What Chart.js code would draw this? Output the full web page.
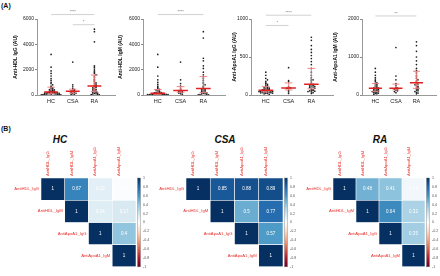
<!DOCTYPE html>
<html lang="en">
<head>
<meta charset="UTF-8">
<script src="https://cdn.jsdelivr.net/npm/chart.js"></script>
<title>Anti-HDL / Anti-ApoA1</title>
<style>
    body {
        margin: 0;
        width: 440px;
        height: 276px;
        position: relative;
        overflow: hidden;
        background: #fff;
        font-family: "Liberation Sans", Arial, sans-serif;
    }
    canvas { position: absolute; }
    .lbl {
        position: absolute;
        font-weight: bold;
        color: #111;
        white-space: nowrap;
        line-height: 1;
    }
    .panel { font-size: 7px; }
    .hm-title { font-size: 10px; font-style: italic; transform: translateX(-50%); }
</style>
</head>
<body>
<div class="lbl panel" style="left:1px;top:2px">(A)</div>
<div class="lbl panel" style="left:1px;top:125px">(B)</div>
<div class="lbl hm-title" style="left:60px;top:135px">HC</div>
<div class="lbl hm-title" style="left:225px;top:135px">CSA</div>
<div class="lbl hm-title" style="left:380px;top:135px">RA</div>

<canvas id="s1" width="111" height="103" style="left:8px;top:4px"></canvas>
<canvas id="s2" width="115" height="103" style="left:114px;top:4px"></canvas>
<canvas id="s3" width="115" height="103" style="left:222px;top:4px"></canvas>
<canvas id="s4" width="107" height="103" style="left:333px;top:4px"></canvas>

<canvas id="h1" width="151" height="146" style="left:0px;top:130px"></canvas>
<canvas id="h2" width="148" height="146" style="left:150px;top:130px"></canvas>
<canvas id="h3" width="144" height="146" style="left:296px;top:130px"></canvas>

<script>
    // ---- dados (A) ----
    const groupNames = ['HC', 'CSA', 'RA'];

    const hdlIgG_HC = [3200, 2200, 1900, 1700, 1500, 1300, 1150, 1000, 900, 800, 700, 620, 560, 500, 470, 430, 400, 370, 340, 310, 280, 260, 240, 220, 200, 190, 180, 170, 160, 150, 140, 130, 120, 110, 100, 90, 80, 70, 60, 50, 40, 30, 20, 10, 5];
    const hdlIgG_CSA = [2600, 800, 650, 500, 420, 380, 330, 300, 260, 220, 180, 140, 100, 60, 30];
    const hdlIgG_RA = [5200, 5000, 4200, 2300, 2200, 2050, 1900, 1800, 1700, 1600, 1500, 1400, 1250, 1150, 1050, 950, 880, 800, 740, 700, 660, 620, 560, 500, 450, 400, 350, 300, 260, 220, 180, 150, 120, 100, 80, 60, 40, 20];

    const hdlIgM_HC = [3200, 2200, 1500, 1200, 1000, 850, 700, 600, 500, 450, 400, 350, 300, 250, 220, 200, 180, 160, 140, 120, 110, 100, 90, 80, 70, 60, 55, 50, 45, 40, 35, 30, 25, 20, 15, 10, 8, 5];
    const hdlIgM_CSA = [2600, 1200, 900, 700, 550, 450, 380, 320, 280, 240, 200, 150, 100, 60];
    const hdlIgM_RA = [5000, 4500, 2900, 2700, 2300, 2100, 1800, 1600, 1450, 1300, 1150, 1000, 900, 800, 700, 620, 520, 460, 420, 380, 340, 300, 260, 220, 190, 160, 130, 100, 80, 60, 40, 20, 10];

    const apoIgG_HC = [300, 260, 220, 200, 180, 160, 150, 140, 130, 120, 110, 100, 95, 90, 85, 80, 75, 70, 68, 65, 62, 60, 58, 55, 52, 50, 48, 45, 42, 40, 38, 35, 32, 30, 28, 25, 22, 20, 15, 10];
    const apoIgG_CSA = [360, 190, 175, 110, 95, 90, 85, 60, 40, 20];
    const apoIgG_RA = [760, 720, 650, 600, 560, 520, 480, 440, 400, 350, 300, 260, 230, 210, 200, 190, 170, 150, 140, 130, 125, 120, 115, 110, 105, 100, 90, 80, 70, 65, 60, 55, 50, 45, 40, 30, 20];

    const apoIgM_HC = [700, 600, 520, 460, 420, 380, 350, 320, 300, 280, 260, 240, 220, 200, 190, 180, 170, 160, 150, 140, 130, 120, 110, 100, 90, 80, 70, 60, 50, 40, 30, 20];
    const apoIgM_CSA = [1250, 500, 400, 300, 250, 200, 180, 170, 160, 150, 130, 110, 90, 60];
    const apoIgM_RA = [1400, 1300, 1150, 1000, 900, 800, 700, 640, 580, 520, 480, 440, 400, 370, 340, 310, 290, 270, 250, 230, 210, 190, 170, 150, 130, 110, 90, 70, 50, 30];

    // barras de significancia: [de, ate, y, texto]
    const sig_hdlIgG = [[1, 3, 6350, '****'], [2, 3, 5550, '*']];
    const sig_hdlIgM = [[1, 3, 6350, '****']];
    const sig_apoIgG = [[1, 3, 1050, '****'], [1, 2, 915, '*']];
    const sig_apoIgM = [[1, 3, 2080, '**']];

    // ---- dados (B) ----
    const corrVars = ['AntiHDL_IgG', 'AntiHDL_IgM', 'AntiApoA1_IgG', 'AntiApoA1_IgM'];
    const corrHC = [[1, 0.67, 0.12, 0.02], [null, 1, 0.14, 0.17], [null, null, 1, 0.4], [null, null, null, 1]];
    const corrCSA = [[1, 0.85, 0.88, 0.89], [null, 1, 0.5, 0.77], [null, null, 1, 0.57], [null, null, null, 1]];
    const corrRA = [[1, 0.48, 0.41, 0.06], [null, 1, 0.64, 0.32], [null, null, 1, 0.35], [null, null, null, 1]];
    const colorbarTicks = [1, 0.8, 0.6, 0.4, 0.2, 0, -0.2, -0.4, -0.6, -0.8, -1];

    const rdbu = ['#67001F', '#B2182B', '#D6604D', '#F4A582', '#FDDBC7', '#FFFFFF', '#D1E5F0', '#92C5DE', '#4393C3', '#2166AC', '#053061'];
    const FONT = '"Liberation Sans", Arial, sans-serif';
    Chart.defaults.font.family = FONT;

    // ---- utilitarios ----
    function quantile(vals, p) {
        const s = [...vals].sort((a, b) => a - b);
        const pos = (s.length - 1) * p;
        const lo = Math.floor(pos), hi = Math.ceil(pos);
        return s[lo] + (s[hi] - s[lo]) * (pos - lo);
    }

    // espalha os pontos de cada grupo (tipo beeswarm)
    function swarm(vals, gx, yMax) {
        const bin = yMax / 45;
        const counts = {};
        return [...vals].sort((a, b) => b - a).map(v => {
            const b = Math.floor(v / bin);
            const k = (counts[b] = (counts[b] || 0) + 1) - 1;
            const kk = k % 13;
            const off = kk === 0 ? 0 : (kk % 2 ? 1 : -1) * Math.ceil(kk / 2) * 0.075;
            return { x: gx + off, y: v };
        });
    }

    function hexRgb(h) {
        return [parseInt(h.slice(1, 3), 16), parseInt(h.slice(3, 5), 16), parseInt(h.slice(5, 7), 16)];
    }

    function corrColor(v) {
        const t = (v + 1) / 2 * (rdbu.length - 1);
        const i = Math.min(Math.floor(t), rdbu.length - 2);
        const f = t - i;
        const a = hexRgb(rdbu[i]), b = hexRgb(rdbu[i + 1]);
        const c = a.map((x, j) => Math.round(x + (b[j] - x) * f));
        return `rgb(${c[0]},${c[1]},${c[2]})`;
    }

    // ---- graficos de pontos (A) ----
    function stripChart(id, yTitle, yMax, yStep, groups, sig, titlePad) {
        const points = [];
        const medians = [];
        const iqr = [];
        groups.forEach((vals, i) => {
            const g = i + 1;
            swarm(vals, g, yMax).forEach(p => points.push(p));
            const med = quantile(vals, 0.5), q1 = quantile(vals, 0.25), q3 = quantile(vals, 0.75);
            medians.push({ x: g - 0.32, y: med }, { x: g + 0.32, y: med }, { x: g, y: null });
            iqr.push({ x: g - 0.17, y: q1 }, { x: g + 0.17, y: q1 }, { x: g, y: null },
                     { x: g, y: q1 }, { x: g, y: q3 }, { x: g, y: null },
                     { x: g - 0.17, y: q3 }, { x: g + 0.17, y: q3 }, { x: g, y: null });
        });
        const sigLines = [];
        sig.forEach(s => sigLines.push({ x: s[0], y: s[2] }, { x: s[1], y: s[2] }, { x: s[0], y: null }));

        const sigText = {
            id: 'sigText',
            afterDatasetsDraw(chart) {
                const ctx = chart.ctx, xs = chart.scales.x, ys = chart.scales.y;
                ctx.save();
                ctx.fillStyle = '#666';
                ctx.font = '4px ' + FONT;
                ctx.textAlign = 'center';
                ctx.textBaseline = 'bottom';
                sig.forEach(s => {
                    ctx.fillText(s[3], xs.getPixelForValue((s[0] + s[1]) / 2), ys.getPixelForValue(s[2]) - 0.5);
                });
                ctx.restore();
            }
        };

        new Chart(document.getElementById(id), {
            type: 'scatter',
            data: {
                datasets: [
                    { data: medians, showLine: true, spanGaps: false, borderColor: '#e3201f', borderWidth: 1.5, pointRadius: 0 },
                    { data: iqr, showLine: true, spanGaps: false, borderColor: '#ec7a7a', borderWidth: 0.9, pointRadius: 0 },
                    { data: sigLines, showLine: true, spanGaps: false, borderColor: '#bdbdbd', borderWidth: 0.7, pointRadius: 0, clip: false },
                    { data: points, pointRadius: 0.85, pointBackgroundColor: '#1e1e1e', pointBorderWidth: 0 }
                ]
            },
            options: {
                responsive: false,
                animation: false,
                events: [],
                layout: { padding: { top: 15, right: 2, left: 0, bottom: 0 } },
                plugins: { legend: { display: false }, tooltip: { enabled: false } },
                scales: {
                    x: {
                        type: 'linear', min: 0.35, max: 3.95,
                        afterBuildTicks: s => { s.ticks = groupNames.map((_, i) => ({ value: i + 1 })); },
                        ticks: { callback: v => groupNames[v - 1], font: { size: 5.5 }, color: '#222', padding: 3, maxRotation: 0 },
                        grid: { display: false, drawTicks: false },
                        border: { color: '#9a9a9a', width: 1 },
                        afterFit: s => { s.height = 12; }
                    },
                    y: {
                        min: 0, max: yMax,
                        ticks: { stepSize: yStep, callback: v => String(v), font: { size: 5 }, color: '#222', padding: 1 },
                        grid: { drawOnChartArea: false, tickLength: 2, color: '#888' },
                        border: { color: '#9a9a9a', width: 1 },
                        title: { display: true, text: yTitle, font: { size: 5, weight: 'bold' }, color: '#111', padding: { top: titlePad, bottom: 0 } },
                        afterFit: s => { s.width = 29; }
                    }
                }
            },
            plugins: [sigText]
        });
    }

    stripChart('s1', 'Anti-HDL IgG (AU)', 6000, 2000, [hdlIgG_HC, hdlIgG_CSA, hdlIgG_RA], sig_hdlIgG, 5);
    stripChart('s2', 'Anti-HDL IgM (AU)', 6000, 2000, [hdlIgM_HC, hdlIgM_CSA, hdlIgM_RA], sig_hdlIgM, 4);
    stripChart('s3', 'Anti-ApoA1 IgG (AU)', 1000, 500, [apoIgG_HC, apoIgG_CSA, apoIgG_RA], sig_apoIgG, 10);
    stripChart('s4', 'Anti-ApoA1 IgM (AU)', 2000, 1000, [apoIgM_HC, apoIgM_CSA, apoIgM_RA], sig_apoIgM, 0);

    // ---- matrizes de correlacao (B) ----
    function corrChart(id, mat, padLeft, barWidth) {
        const datasets = corrVars.map((_, r) => ({
            data: corrVars.map((_, c) => (c >= r ? [r, r + 1] : null)),
            backgroundColor: corrVars.map((_, c) => (c >= r ? corrColor(mat[r][c]) : 'rgba(0,0,0,0)')),
            borderColor: '#ffffff',
            borderWidth: 0.6,
            borderSkipped: false,
            grouped: false,
            barPercentage: 1,
            categoryPercentage: 1
        }));

        const cellText = {
            id: 'cellText',
            afterDatasetsDraw(chart) {
                const ctx = chart.ctx, area = chart.chartArea, y2 = chart.scales.y2;
                ctx.save();
                ctx.textBaseline = 'middle';
                corrVars.forEach((name, r) => {
                    const els = chart.getDatasetMeta(r).data;
                    ctx.font = '4.5px ' + FONT;
                    ctx.fillStyle = '#ffffff';
                    ctx.textAlign = 'center';
                    corrVars.forEach((_, c) => {
                        if (c < r) return;
                        const el = els[c];
                        ctx.fillText(String(mat[r][c]), el.x, (el.y + el.base) / 2);
                    });
                    // rotulo da linha ao lado da diagonal
                    const d = els[r];
                    ctx.font = '4.2px ' + FONT;
                    ctx.fillStyle = '#e8302a';
                    ctx.textAlign = 'right';
                    ctx.fillText(name, d.x - d.width / 2 - 2, (d.y + d.base) / 2);
                });
                // barra de cores
                const top = y2.getPixelForValue(1), bot = y2.getPixelForValue(-1);
                const grad = ctx.createLinearGradient(0, top, 0, bot);
                [...rdbu].reverse().forEach((c, i) => grad.addColorStop(i / (rdbu.length - 1), c));
                ctx.fillStyle = grad;
                ctx.fillRect(area.right + 1.5, top, barWidth, bot - top);
                ctx.strokeStyle = '#777';
                ctx.lineWidth = 0.4;
                ctx.strokeRect(area.right + 1.5, top, barWidth, bot - top);
                ctx.restore();
            }
        };

        new Chart(document.getElementById(id), {
            type: 'bar',
            data: { labels: corrVars, datasets },
            options: {
                responsive: false,
                animation: false,
                events: [],
                layout: { padding: { left: padLeft, top: 0, right: 0, bottom: 2 } },
                plugins: { legend: { display: false }, tooltip: { enabled: false } },
                scales: {
                    x: {
                        position: 'top',
                        offset: true,
                        grid: { display: false, drawTicks: false },
                        border: { display: false },
                        ticks: { minRotation: 90, maxRotation: 90, autoSkip: false, font: { size: 4.2 }, color: '#e8302a', padding: 2 },
                        afterFit: s => { s.height = 48; }
                    },
                    y: { min: 0, max: 4, reverse: true, display: false },
                    y2: {
                        position: 'right', min: -1, max: 1,
                        afterBuildTicks: s => { s.ticks = colorbarTicks.map(v => ({ value: v })); },
                        ticks: { callback: v => String(Math.round(v * 10) / 10), font: { size: 3.6 }, color: '#555', padding: 7 },
                        grid: { display: false, drawTicks: false },
                        border: { display: false },
                        afterFit: s => { s.width = 15; }
                    }
                }
            },
            plugins: [cellText]
        });
    }

    corrChart('h1', corrHC, 41, 3);
    corrChart('h2', corrCSA, 36, 3);
    corrChart('h3', corrRA, 37, 3);
</script>
</body>
</html>
